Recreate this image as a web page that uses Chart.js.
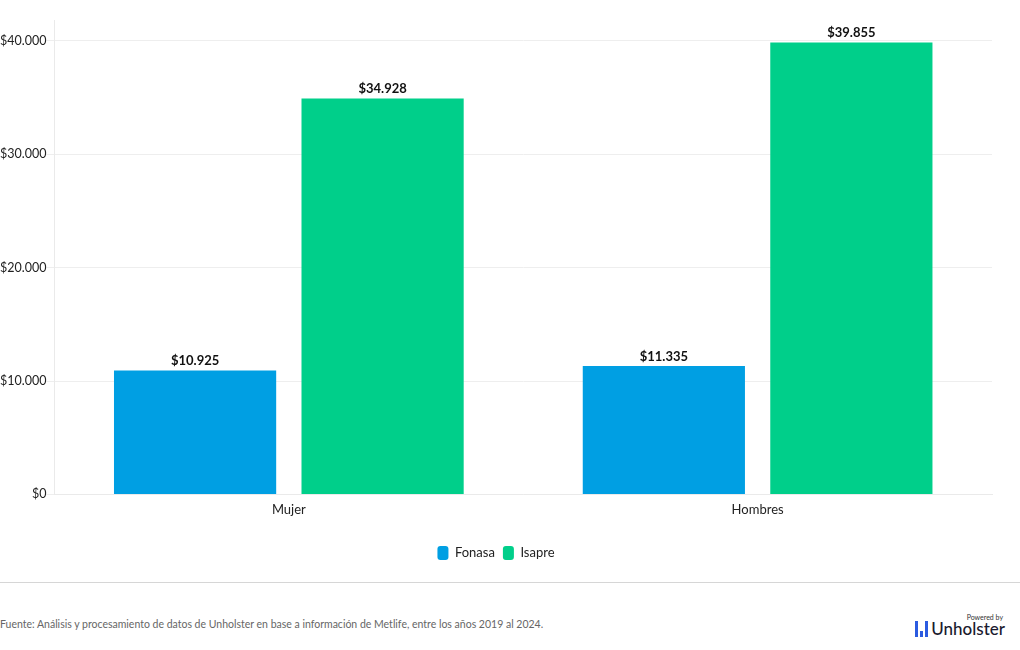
<!DOCTYPE html>
<html>
<head>
<meta charset="utf-8">
<script src="https://cdn.jsdelivr.net/npm/chart.js@4.4.1/dist/chart.umd.min.js"></script>
<style>
  body { margin: 0; background: #fff; font-family: Lato, "Noto Sans", sans-serif; }
  #wrap { position: relative; width: 1020px; height: 580px; }
  #sep { position: absolute; left: 0; top: 582px; width: 1020px; border-top: 1px solid #d6d6d6; }
  #fuente { position: absolute; left: 0; top: 618px; font-size: 10.5px; color: #666; }
  #logo { position: absolute; right: 15px; top: 613px; text-align: right; }
  #logo .pw { font-size: 7px; color: #333; margin-right: 2px; }
  #logo .nm { font-size: 17px; font-weight: 500; color: #1a1a2e; display: flex; align-items: flex-end; gap: 3px; line-height: 16px; }
  #logo .ic { display: inline-flex; align-items: flex-end; gap: 2px; height: 16px; }
  #logo .ic span { display: inline-block; width: 3px; background: #2b5be0; }
</style>
</head>
<body>
<div id="wrap"><canvas id="chart" width="1020" height="580"></canvas></div>
<div id="sep"></div>
<div id="fuente">Fuente: Análisis y procesamiento de datos de Unholster en base a información de Metlife, entre los años 2019 al 2024.</div>
<div id="logo">
  <div class="pw">Powered by</div>
  <div class="nm"><span class="ic"><span style="height:16px"></span><span style="height:6px"></span><span style="height:16px"></span></span>Unholster</div>
</div>
<script>
const categorias = ['Mujer', 'Hombres'];
const fonasa = [10925, 11335];
const isapre = [34928, 39855];
const ticksY = [0, 10000, 20000, 30000, 40000];

// formato chileno: $34.928
function pesos(v) {
    return '$' + Math.round(v).toString().replace(/\B(?=(\d{3})+(?!\d))/g, '.');
}

const etiquetas = {
    id: 'etiquetas',
    afterDatasetsDraw(chart) {
        const ctx = chart.ctx;
        ctx.save();
        ctx.font = 'bold 13px Lato, "Noto Sans", sans-serif';
        ctx.fillStyle = '#111';
        ctx.textAlign = 'center';
        ctx.textBaseline = 'bottom';
        chart.data.datasets.forEach((ds, i) => {
            chart.getDatasetMeta(i).data.forEach((bar, j) => {
                ctx.fillText(pesos(ds.data[j]), bar.x, bar.y - 3);
            });
        });
        ctx.restore();
    }
};

const maxY = Math.max(...isapre, ...fonasa) * 1.05;

new Chart(document.getElementById('chart').getContext('2d'), {
    type: 'bar',
    data: {
        labels: categorias,
        datasets: [
            { label: 'Fonasa', data: fonasa, backgroundColor: '#009fe3' },
            { label: 'Isapre', data: isapre, backgroundColor: '#00cf8a' }
        ]
    },
    options: {
        responsive: false,
        animation: false,
        categoryPercentage: 0.8,
        barPercentage: 0.865,
        layout: { padding: { top: 20, right: 28, left: 0, bottom: 10 } },
        plugins: {
            legend: {
                position: 'bottom',
                labels: {
                    boxWidth: 11,
                    boxHeight: 14,
                    useBorderRadius: true,
                    borderRadius: 3,
                    padding: 8,
                    color: '#222',
                    font: { size: 13, family: 'Lato, "Noto Sans", sans-serif' }
                }
            },
            tooltip: { enabled: false }
        },
        scales: {
            x: {
                grid: { display: false },
                border: { color: '#eaeaea' },
                ticks: { color: '#222', padding: 0, font: { size: 13, family: 'Lato, "Noto Sans", sans-serif' } },
                afterFit(axis) { axis.height += 20; }
            },
            y: {
                min: 0,
                max: maxY,
                afterBuildTicks(axis) { axis.ticks = ticksY.map(v => ({ value: v })); },
                grid: { color: '#eeeeee', tickLength: 8, tickColor: '#eeeeee' },
                border: { color: '#eaeaea' },
                ticks: {
                    color: '#222',
                    padding: 0,
                    font: { size: 12.5, family: 'Lato, "Noto Sans", sans-serif' },
                    callback: v => pesos(v)
                }
            }
        }
    },
    plugins: [etiquetas]
});
</script>
</body>
</html>
